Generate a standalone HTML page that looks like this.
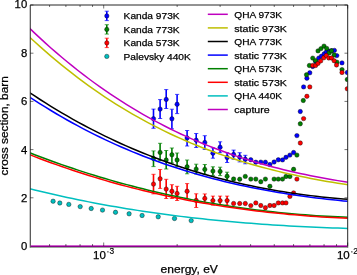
<!DOCTYPE html>
<html><head><meta charset="utf-8"><style>
html,body{margin:0;padding:0;background:#fff;width:357px;height:275px;overflow:hidden;position:relative}
</style></head><body>
<svg width="357" height="275" viewBox="0 0 357 275" style="position:absolute;left:0;top:0;will-change:transform">
<defs><clipPath id="c"><rect x="30.25" y="5.0" width="317.45" height="241.0"/></clipPath></defs>
<g clip-path="url(#c)">
<path d="M153.50,109.10 V128.30" stroke="#0000ff" stroke-width="1.6" fill="none"/><path d="M151.40,109.10 H155.60 M151.40,128.30 H155.60" stroke="#0000ff" stroke-width="0.7" fill="none"/>
<path d="M160.10,99.60 V118.50" stroke="#0000ff" stroke-width="1.6" fill="none"/><path d="M158.00,99.60 H162.20 M158.00,118.50 H162.20" stroke="#0000ff" stroke-width="0.7" fill="none"/>
<path d="M166.20,89.60 V108.50" stroke="#0000ff" stroke-width="1.6" fill="none"/><path d="M164.10,89.60 H168.30 M164.10,108.50 H168.30" stroke="#0000ff" stroke-width="0.7" fill="none"/>
<path d="M171.90,109.20 V128.80" stroke="#0000ff" stroke-width="1.6" fill="none"/><path d="M169.80,109.20 H174.00 M169.80,128.80 H174.00" stroke="#0000ff" stroke-width="0.7" fill="none"/>
<path d="M177.10,94.40 V113.60" stroke="#0000ff" stroke-width="1.6" fill="none"/><path d="M175.00,94.40 H179.20 M175.00,113.60 H179.20" stroke="#0000ff" stroke-width="0.7" fill="none"/>
<path d="M187.10,130.50 V146.00" stroke="#0000ff" stroke-width="1.6" fill="none"/><path d="M185.00,130.50 H189.20 M185.00,146.00 H189.20" stroke="#0000ff" stroke-width="0.7" fill="none"/>
<path d="M196.20,133.50 V147.50" stroke="#0000ff" stroke-width="1.6" fill="none"/><path d="M194.10,133.50 H198.30 M194.10,147.50 H198.30" stroke="#0000ff" stroke-width="0.7" fill="none"/>
<path d="M204.80,135.70 V149.50" stroke="#0000ff" stroke-width="1.6" fill="none"/><path d="M202.70,135.70 H206.90 M202.70,149.50 H206.90" stroke="#0000ff" stroke-width="0.7" fill="none"/>
<path d="M212.90,147.90 V158.20" stroke="#0000ff" stroke-width="1.6" fill="none"/><path d="M210.80,147.90 H215.00 M210.80,158.20 H215.00" stroke="#0000ff" stroke-width="0.7" fill="none"/>
<path d="M220.10,141.80 V152.70" stroke="#0000ff" stroke-width="1.6" fill="none"/><path d="M218.00,141.80 H222.20 M218.00,152.70 H222.20" stroke="#0000ff" stroke-width="0.7" fill="none"/>
<path d="M227.10,152.70 V162.50" stroke="#0000ff" stroke-width="1.6" fill="none"/><path d="M225.00,152.70 H229.20 M225.00,162.50 H229.20" stroke="#0000ff" stroke-width="0.7" fill="none"/>
<path d="M233.60,150.10 V159.30" stroke="#0000ff" stroke-width="1.6" fill="none"/><path d="M231.50,150.10 H235.70 M231.50,159.30 H235.70" stroke="#0000ff" stroke-width="0.7" fill="none"/>
<path d="M239.70,152.70 V161.90" stroke="#0000ff" stroke-width="1.6" fill="none"/><path d="M237.60,152.70 H241.80 M237.60,161.90 H241.80" stroke="#0000ff" stroke-width="0.7" fill="none"/>
<path d="M245.30,155.30 V163.80" stroke="#0000ff" stroke-width="1.6" fill="none"/><path d="M243.20,155.30 H247.40 M243.20,163.80 H247.40" stroke="#0000ff" stroke-width="0.7" fill="none"/>
<circle cx="153.50" cy="118.70" r="2.2" fill="#0000ff" stroke="#000" stroke-width="0.4"/>
<circle cx="160.10" cy="109.10" r="2.2" fill="#0000ff" stroke="#000" stroke-width="0.4"/>
<circle cx="166.20" cy="99.40" r="2.2" fill="#0000ff" stroke="#000" stroke-width="0.4"/>
<circle cx="171.90" cy="118.80" r="2.2" fill="#0000ff" stroke="#000" stroke-width="0.4"/>
<circle cx="177.10" cy="104.30" r="2.2" fill="#0000ff" stroke="#000" stroke-width="0.4"/>
<circle cx="187.10" cy="138.00" r="2.2" fill="#0000ff" stroke="#000" stroke-width="0.4"/>
<circle cx="196.20" cy="140.20" r="2.2" fill="#0000ff" stroke="#000" stroke-width="0.4"/>
<circle cx="204.80" cy="142.50" r="2.2" fill="#0000ff" stroke="#000" stroke-width="0.4"/>
<circle cx="212.90" cy="153.20" r="2.2" fill="#0000ff" stroke="#000" stroke-width="0.4"/>
<circle cx="220.10" cy="147.30" r="2.2" fill="#0000ff" stroke="#000" stroke-width="0.4"/>
<circle cx="227.10" cy="157.50" r="2.2" fill="#0000ff" stroke="#000" stroke-width="0.4"/>
<circle cx="233.60" cy="154.50" r="2.2" fill="#0000ff" stroke="#000" stroke-width="0.4"/>
<circle cx="239.70" cy="157.10" r="2.2" fill="#0000ff" stroke="#000" stroke-width="0.4"/>
<circle cx="245.30" cy="159.30" r="2.2" fill="#0000ff" stroke="#000" stroke-width="0.4"/>
<circle cx="250.80" cy="159.70" r="2.2" fill="#0000ff" stroke="#000" stroke-width="0.4"/>
<circle cx="255.80" cy="162.20" r="2.2" fill="#0000ff" stroke="#000" stroke-width="0.4"/>
<circle cx="260.80" cy="162.10" r="2.2" fill="#0000ff" stroke="#000" stroke-width="0.4"/>
<circle cx="265.40" cy="162.20" r="2.2" fill="#0000ff" stroke="#000" stroke-width="0.4"/>
<circle cx="269.90" cy="164.50" r="2.2" fill="#0000ff" stroke="#000" stroke-width="0.4"/>
<circle cx="274.10" cy="162.00" r="2.2" fill="#0000ff" stroke="#000" stroke-width="0.4"/>
<circle cx="278.30" cy="159.80" r="2.2" fill="#0000ff" stroke="#000" stroke-width="0.4"/>
<circle cx="282.50" cy="159.90" r="2.2" fill="#0000ff" stroke="#000" stroke-width="0.4"/>
<circle cx="286.00" cy="157.30" r="2.2" fill="#0000ff" stroke="#000" stroke-width="0.4"/>
<circle cx="289.90" cy="155.10" r="2.2" fill="#0000ff" stroke="#000" stroke-width="0.4"/>
<circle cx="293.60" cy="152.50" r="2.2" fill="#0000ff" stroke="#000" stroke-width="0.4"/>
<circle cx="296.90" cy="135.60" r="2.2" fill="#0000ff" stroke="#000" stroke-width="0.4"/>
<circle cx="300.30" cy="111.50" r="2.2" fill="#0000ff" stroke="#000" stroke-width="0.4"/>
<circle cx="303.60" cy="86.90" r="2.2" fill="#0000ff" stroke="#000" stroke-width="0.4"/>
<circle cx="306.90" cy="78.20" r="2.2" fill="#0000ff" stroke="#000" stroke-width="0.4"/>
<circle cx="309.80" cy="72.80" r="2.2" fill="#0000ff" stroke="#000" stroke-width="0.4"/>
<circle cx="312.70" cy="66.50" r="2.2" fill="#0000ff" stroke="#000" stroke-width="0.4"/>
<circle cx="315.60" cy="61.50" r="2.2" fill="#0000ff" stroke="#000" stroke-width="0.4"/>
<circle cx="318.70" cy="58.10" r="2.2" fill="#0000ff" stroke="#000" stroke-width="0.4"/>
<circle cx="321.40" cy="56.20" r="2.2" fill="#0000ff" stroke="#000" stroke-width="0.4"/>
<circle cx="324.20" cy="53.80" r="2.2" fill="#0000ff" stroke="#000" stroke-width="0.4"/>
<circle cx="326.50" cy="51.70" r="2.2" fill="#0000ff" stroke="#000" stroke-width="0.4"/>
<circle cx="329.10" cy="51.20" r="2.2" fill="#0000ff" stroke="#000" stroke-width="0.4"/>
<circle cx="331.60" cy="50.80" r="2.2" fill="#0000ff" stroke="#000" stroke-width="0.4"/>
<circle cx="334.40" cy="50.40" r="2.2" fill="#0000ff" stroke="#000" stroke-width="0.4"/>
<circle cx="336.80" cy="55.60" r="2.2" fill="#0000ff" stroke="#000" stroke-width="0.4"/>
<circle cx="342.00" cy="62.90" r="2.2" fill="#0000ff" stroke="#000" stroke-width="0.4"/>
<circle cx="347.30" cy="72.50" r="2.2" fill="#0000ff" stroke="#000" stroke-width="0.4"/>
<path d="M153.50,150.90 V166.60" stroke="#008000" stroke-width="1.6" fill="none"/><path d="M151.40,150.90 H155.60 M151.40,166.60 H155.60" stroke="#008000" stroke-width="0.7" fill="none"/>
<path d="M160.10,143.30 V160.70" stroke="#008000" stroke-width="1.6" fill="none"/><path d="M158.00,143.30 H162.20 M158.00,160.70 H162.20" stroke="#008000" stroke-width="0.7" fill="none"/>
<path d="M166.20,150.50 V169.00" stroke="#008000" stroke-width="1.6" fill="none"/><path d="M164.10,150.50 H168.30 M164.10,169.00 H168.30" stroke="#008000" stroke-width="0.7" fill="none"/>
<path d="M171.90,148.00 V163.00" stroke="#008000" stroke-width="1.6" fill="none"/><path d="M169.80,148.00 H174.00 M169.80,163.00 H174.00" stroke="#008000" stroke-width="0.7" fill="none"/>
<path d="M177.10,153.00 V166.60" stroke="#008000" stroke-width="1.6" fill="none"/><path d="M175.00,153.00 H179.20 M175.00,166.60 H179.20" stroke="#008000" stroke-width="0.7" fill="none"/>
<path d="M187.10,160.00 V173.80" stroke="#008000" stroke-width="1.6" fill="none"/><path d="M185.00,160.00 H189.20 M185.00,173.80 H189.20" stroke="#008000" stroke-width="0.7" fill="none"/>
<path d="M196.20,164.20 V174.00" stroke="#008000" stroke-width="1.6" fill="none"/><path d="M194.10,164.20 H198.30 M194.10,174.00 H198.30" stroke="#008000" stroke-width="0.7" fill="none"/>
<path d="M204.80,164.50 V174.30" stroke="#008000" stroke-width="1.6" fill="none"/><path d="M202.70,164.50 H206.90 M202.70,174.30 H206.90" stroke="#008000" stroke-width="0.7" fill="none"/>
<path d="M212.90,166.80 V175.40" stroke="#008000" stroke-width="1.6" fill="none"/><path d="M210.80,166.80 H215.00 M210.80,175.40 H215.00" stroke="#008000" stroke-width="0.7" fill="none"/>
<path d="M220.10,167.20 V175.60" stroke="#008000" stroke-width="1.6" fill="none"/><path d="M218.00,167.20 H222.20 M218.00,175.60 H222.20" stroke="#008000" stroke-width="0.7" fill="none"/>
<path d="M227.10,172.20 V180.40" stroke="#008000" stroke-width="1.6" fill="none"/><path d="M225.00,172.20 H229.20 M225.00,180.40 H229.20" stroke="#008000" stroke-width="0.7" fill="none"/>
<circle cx="153.50" cy="158.50" r="2.2" fill="#008000" stroke="#000" stroke-width="0.4"/>
<circle cx="160.10" cy="152.40" r="2.2" fill="#008000" stroke="#000" stroke-width="0.4"/>
<circle cx="166.20" cy="160.00" r="2.2" fill="#008000" stroke="#000" stroke-width="0.4"/>
<circle cx="171.90" cy="154.80" r="2.2" fill="#008000" stroke="#000" stroke-width="0.4"/>
<circle cx="177.10" cy="160.00" r="2.2" fill="#008000" stroke="#000" stroke-width="0.4"/>
<circle cx="187.10" cy="166.80" r="2.2" fill="#008000" stroke="#000" stroke-width="0.4"/>
<circle cx="196.20" cy="169.10" r="2.2" fill="#008000" stroke="#000" stroke-width="0.4"/>
<circle cx="204.80" cy="169.40" r="2.2" fill="#008000" stroke="#000" stroke-width="0.4"/>
<circle cx="212.90" cy="171.10" r="2.2" fill="#008000" stroke="#000" stroke-width="0.4"/>
<circle cx="220.10" cy="171.40" r="2.2" fill="#008000" stroke="#000" stroke-width="0.4"/>
<circle cx="227.10" cy="176.30" r="2.2" fill="#008000" stroke="#000" stroke-width="0.4"/>
<circle cx="233.60" cy="179.00" r="2.2" fill="#008000" stroke="#000" stroke-width="0.4"/>
<circle cx="239.70" cy="179.20" r="2.2" fill="#008000" stroke="#000" stroke-width="0.4"/>
<circle cx="245.30" cy="176.40" r="2.2" fill="#008000" stroke="#000" stroke-width="0.4"/>
<circle cx="250.80" cy="179.10" r="2.2" fill="#008000" stroke="#000" stroke-width="0.4"/>
<circle cx="255.80" cy="179.10" r="2.2" fill="#008000" stroke="#000" stroke-width="0.4"/>
<circle cx="260.80" cy="181.70" r="2.2" fill="#008000" stroke="#000" stroke-width="0.4"/>
<circle cx="265.40" cy="179.10" r="2.2" fill="#008000" stroke="#000" stroke-width="0.4"/>
<circle cx="269.90" cy="186.30" r="2.2" fill="#008000" stroke="#000" stroke-width="0.4"/>
<circle cx="274.10" cy="179.10" r="2.2" fill="#008000" stroke="#000" stroke-width="0.4"/>
<circle cx="278.30" cy="179.10" r="2.2" fill="#008000" stroke="#000" stroke-width="0.4"/>
<circle cx="282.50" cy="179.10" r="2.2" fill="#008000" stroke="#000" stroke-width="0.4"/>
<circle cx="286.00" cy="176.50" r="2.2" fill="#008000" stroke="#000" stroke-width="0.4"/>
<circle cx="289.90" cy="176.50" r="2.2" fill="#008000" stroke="#000" stroke-width="0.4"/>
<circle cx="293.60" cy="169.30" r="2.2" fill="#008000" stroke="#000" stroke-width="0.4"/>
<circle cx="296.90" cy="155.10" r="2.2" fill="#008000" stroke="#000" stroke-width="0.4"/>
<circle cx="300.30" cy="123.80" r="2.2" fill="#008000" stroke="#000" stroke-width="0.4"/>
<circle cx="303.30" cy="100.50" r="2.2" fill="#008000" stroke="#000" stroke-width="0.4"/>
<circle cx="306.50" cy="74.80" r="2.2" fill="#008000" stroke="#000" stroke-width="0.4"/>
<circle cx="309.40" cy="65.50" r="2.2" fill="#008000" stroke="#000" stroke-width="0.4"/>
<circle cx="312.70" cy="58.10" r="2.2" fill="#008000" stroke="#000" stroke-width="0.4"/>
<circle cx="315.50" cy="60.60" r="2.2" fill="#008000" stroke="#000" stroke-width="0.4"/>
<circle cx="318.00" cy="50.90" r="2.2" fill="#008000" stroke="#000" stroke-width="0.4"/>
<circle cx="321.00" cy="48.60" r="2.2" fill="#008000" stroke="#000" stroke-width="0.4"/>
<circle cx="324.00" cy="46.10" r="2.2" fill="#008000" stroke="#000" stroke-width="0.4"/>
<circle cx="326.70" cy="48.40" r="2.2" fill="#008000" stroke="#000" stroke-width="0.4"/>
<circle cx="329.10" cy="52.90" r="2.2" fill="#008000" stroke="#000" stroke-width="0.4"/>
<circle cx="331.50" cy="50.80" r="2.2" fill="#008000" stroke="#000" stroke-width="0.4"/>
<circle cx="334.10" cy="55.00" r="2.2" fill="#008000" stroke="#000" stroke-width="0.4"/>
<circle cx="336.90" cy="62.20" r="2.2" fill="#008000" stroke="#000" stroke-width="0.4"/>
<circle cx="342.00" cy="69.60" r="2.2" fill="#008000" stroke="#000" stroke-width="0.4"/>
<circle cx="347.30" cy="79.50" r="2.2" fill="#008000" stroke="#000" stroke-width="0.4"/>
<path d="M153.50,174.30 V193.90" stroke="#ff0000" stroke-width="1.6" fill="none"/><path d="M151.40,174.30 H155.60 M151.40,193.90 H155.60" stroke="#ff0000" stroke-width="0.7" fill="none"/>
<path d="M160.10,169.50 V188.40" stroke="#ff0000" stroke-width="1.6" fill="none"/><path d="M158.00,169.50 H162.20 M158.00,188.40 H162.20" stroke="#ff0000" stroke-width="0.7" fill="none"/>
<path d="M166.20,179.30 V198.50" stroke="#ff0000" stroke-width="1.6" fill="none"/><path d="M164.10,179.30 H168.30 M164.10,198.50 H168.30" stroke="#ff0000" stroke-width="0.7" fill="none"/>
<path d="M171.90,184.70 V198.50" stroke="#ff0000" stroke-width="1.6" fill="none"/><path d="M169.80,184.70 H174.00 M169.80,198.50 H174.00" stroke="#ff0000" stroke-width="0.7" fill="none"/>
<path d="M177.10,186.30 V200.50" stroke="#ff0000" stroke-width="1.6" fill="none"/><path d="M175.00,186.30 H179.20 M175.00,200.50 H179.20" stroke="#ff0000" stroke-width="0.7" fill="none"/>
<path d="M187.10,183.60 V199.00" stroke="#ff0000" stroke-width="1.6" fill="none"/><path d="M185.00,183.60 H189.20 M185.00,199.00 H189.20" stroke="#ff0000" stroke-width="0.7" fill="none"/>
<path d="M196.20,193.80 V207.50" stroke="#ff0000" stroke-width="1.6" fill="none"/><path d="M194.10,193.80 H198.30 M194.10,207.50 H198.30" stroke="#ff0000" stroke-width="0.7" fill="none"/>
<path d="M204.80,193.90 V203.00" stroke="#ff0000" stroke-width="1.6" fill="none"/><path d="M202.70,193.90 H206.90 M202.70,203.00 H206.90" stroke="#ff0000" stroke-width="0.7" fill="none"/>
<path d="M212.90,196.10 V205.10" stroke="#ff0000" stroke-width="1.6" fill="none"/><path d="M210.80,196.10 H215.00 M210.80,205.10 H215.00" stroke="#ff0000" stroke-width="0.7" fill="none"/>
<path d="M220.10,196.10 V205.10" stroke="#ff0000" stroke-width="1.6" fill="none"/><path d="M218.00,196.10 H222.20 M218.00,205.10 H222.20" stroke="#ff0000" stroke-width="0.7" fill="none"/>
<path d="M227.10,196.10 V205.10" stroke="#ff0000" stroke-width="1.6" fill="none"/><path d="M225.00,196.10 H229.20 M225.00,205.10 H229.20" stroke="#ff0000" stroke-width="0.7" fill="none"/>
<circle cx="153.50" cy="184.10" r="2.2" fill="#ff0000" stroke="#000" stroke-width="0.4"/>
<circle cx="160.10" cy="178.80" r="2.2" fill="#ff0000" stroke="#000" stroke-width="0.4"/>
<circle cx="166.20" cy="189.10" r="2.2" fill="#ff0000" stroke="#000" stroke-width="0.4"/>
<circle cx="171.90" cy="191.30" r="2.2" fill="#ff0000" stroke="#000" stroke-width="0.4"/>
<circle cx="177.10" cy="193.50" r="2.2" fill="#ff0000" stroke="#000" stroke-width="0.4"/>
<circle cx="187.10" cy="191.30" r="2.2" fill="#ff0000" stroke="#000" stroke-width="0.4"/>
<circle cx="196.20" cy="200.40" r="2.2" fill="#ff0000" stroke="#000" stroke-width="0.4"/>
<circle cx="204.80" cy="198.40" r="2.2" fill="#ff0000" stroke="#000" stroke-width="0.4"/>
<circle cx="212.90" cy="200.60" r="2.2" fill="#ff0000" stroke="#000" stroke-width="0.4"/>
<circle cx="220.10" cy="200.60" r="2.2" fill="#ff0000" stroke="#000" stroke-width="0.4"/>
<circle cx="227.10" cy="200.60" r="2.2" fill="#ff0000" stroke="#000" stroke-width="0.4"/>
<circle cx="233.60" cy="203.50" r="2.2" fill="#ff0000" stroke="#000" stroke-width="0.4"/>
<circle cx="239.70" cy="203.50" r="2.2" fill="#ff0000" stroke="#000" stroke-width="0.4"/>
<circle cx="245.30" cy="203.50" r="2.2" fill="#ff0000" stroke="#000" stroke-width="0.4"/>
<circle cx="250.80" cy="205.60" r="2.2" fill="#ff0000" stroke="#000" stroke-width="0.4"/>
<circle cx="255.80" cy="202.90" r="2.2" fill="#ff0000" stroke="#000" stroke-width="0.4"/>
<circle cx="260.80" cy="205.50" r="2.2" fill="#ff0000" stroke="#000" stroke-width="0.4"/>
<circle cx="265.40" cy="207.70" r="2.2" fill="#ff0000" stroke="#000" stroke-width="0.4"/>
<circle cx="269.90" cy="205.50" r="2.2" fill="#ff0000" stroke="#000" stroke-width="0.4"/>
<circle cx="274.10" cy="205.50" r="2.2" fill="#ff0000" stroke="#000" stroke-width="0.4"/>
<circle cx="278.30" cy="202.90" r="2.2" fill="#ff0000" stroke="#000" stroke-width="0.4"/>
<circle cx="282.50" cy="202.90" r="2.2" fill="#ff0000" stroke="#000" stroke-width="0.4"/>
<circle cx="286.00" cy="202.90" r="2.2" fill="#ff0000" stroke="#000" stroke-width="0.4"/>
<circle cx="289.90" cy="196.40" r="2.2" fill="#ff0000" stroke="#000" stroke-width="0.4"/>
<circle cx="293.60" cy="192.90" r="2.2" fill="#ff0000" stroke="#000" stroke-width="0.4"/>
<circle cx="296.90" cy="179.10" r="2.2" fill="#ff0000" stroke="#000" stroke-width="0.4"/>
<circle cx="300.30" cy="143.00" r="2.2" fill="#ff0000" stroke="#000" stroke-width="0.4"/>
<circle cx="303.60" cy="118.60" r="2.2" fill="#ff0000" stroke="#000" stroke-width="0.4"/>
<circle cx="306.90" cy="96.30" r="2.2" fill="#ff0000" stroke="#000" stroke-width="0.4"/>
<circle cx="309.80" cy="86.90" r="2.2" fill="#ff0000" stroke="#000" stroke-width="0.4"/>
<circle cx="312.70" cy="65.50" r="2.2" fill="#ff0000" stroke="#000" stroke-width="0.4"/>
<circle cx="315.60" cy="65.50" r="2.2" fill="#ff0000" stroke="#000" stroke-width="0.4"/>
<circle cx="318.00" cy="63.40" r="2.2" fill="#ff0000" stroke="#000" stroke-width="0.4"/>
<circle cx="320.70" cy="60.90" r="2.2" fill="#ff0000" stroke="#000" stroke-width="0.4"/>
<circle cx="323.80" cy="57.80" r="2.2" fill="#ff0000" stroke="#000" stroke-width="0.4"/>
<circle cx="326.30" cy="55.50" r="2.2" fill="#ff0000" stroke="#000" stroke-width="0.4"/>
<circle cx="328.80" cy="58.00" r="2.2" fill="#ff0000" stroke="#000" stroke-width="0.4"/>
<circle cx="331.50" cy="58.00" r="2.2" fill="#ff0000" stroke="#000" stroke-width="0.4"/>
<circle cx="334.10" cy="60.70" r="2.2" fill="#ff0000" stroke="#000" stroke-width="0.4"/>
<circle cx="336.50" cy="65.00" r="2.2" fill="#ff0000" stroke="#000" stroke-width="0.4"/>
<circle cx="342.00" cy="72.50" r="2.2" fill="#ff0000" stroke="#000" stroke-width="0.4"/>
<circle cx="347.30" cy="88.80" r="2.2" fill="#ff0000" stroke="#000" stroke-width="0.4"/>
<circle cx="53.10" cy="201.20" r="2.2" fill="#00bfbf" stroke="#000" stroke-width="0.4"/>
<circle cx="59.80" cy="203.00" r="2.2" fill="#00bfbf" stroke="#000" stroke-width="0.4"/>
<circle cx="68.80" cy="204.40" r="2.2" fill="#00bfbf" stroke="#000" stroke-width="0.4"/>
<circle cx="80.20" cy="206.60" r="2.2" fill="#00bfbf" stroke="#000" stroke-width="0.4"/>
<circle cx="91.20" cy="208.50" r="2.2" fill="#00bfbf" stroke="#000" stroke-width="0.4"/>
<circle cx="102.50" cy="210.10" r="2.2" fill="#00bfbf" stroke="#000" stroke-width="0.4"/>
<circle cx="115.50" cy="212.30" r="2.2" fill="#00bfbf" stroke="#000" stroke-width="0.4"/>
<circle cx="129.10" cy="213.80" r="2.2" fill="#00bfbf" stroke="#000" stroke-width="0.4"/>
<circle cx="142.10" cy="215.50" r="2.2" fill="#00bfbf" stroke="#000" stroke-width="0.4"/>
<circle cx="158.20" cy="216.80" r="2.2" fill="#00bfbf" stroke="#000" stroke-width="0.4"/>
<circle cx="174.50" cy="218.50" r="2.2" fill="#00bfbf" stroke="#000" stroke-width="0.4"/>
<circle cx="191.20" cy="220.60" r="2.2" fill="#00bfbf" stroke="#000" stroke-width="0.4"/>
<path d="M29.25,27.94 L34.66,33.12 L40.08,38.17 L45.49,43.12 L50.91,47.95 L56.32,52.67 L61.74,57.29 L67.15,61.79 L72.57,66.19 L77.98,70.48 L83.39,74.67 L88.81,78.76 L94.22,82.74 L99.64,86.63 L105.05,90.42 L110.47,94.11 L115.88,97.70 L121.29,101.21 L126.71,104.62 L132.12,107.94 L137.54,111.16 L142.95,114.31 L148.37,117.36 L153.78,120.33 L159.20,123.21 L164.61,126.02 L170.02,128.74 L175.44,131.38 L180.85,133.95 L186.27,136.43 L191.68,138.84 L197.10,141.18 L202.51,143.45 L207.93,145.64 L213.34,147.76 L218.75,149.82 L224.17,151.81 L229.58,153.73 L235.00,155.59 L240.41,157.39 L245.83,159.12 L251.24,160.80 L256.66,162.42 L262.07,163.98 L267.48,165.48 L272.90,166.93 L278.31,168.33 L283.73,169.68 L289.14,170.97 L294.56,172.22 L299.97,173.42 L305.38,174.58 L310.80,175.69 L316.21,176.76 L321.63,177.79 L327.04,178.77 L332.46,179.72 L337.87,180.63 L343.29,181.51 L348.70,182.35" fill="none" stroke="#bf00bf" stroke-width="1.5"/>
<path d="M29.25,36.71 L34.66,41.72 L40.08,46.62 L45.49,51.41 L50.91,56.08 L56.32,60.65 L61.74,65.10 L67.15,69.45 L72.57,73.70 L77.98,77.83 L83.39,81.87 L88.81,85.81 L94.22,89.64 L99.64,93.38 L105.05,97.02 L110.47,100.56 L115.88,104.02 L121.29,107.37 L126.71,110.64 L132.12,113.82 L137.54,116.91 L142.95,119.92 L148.37,122.84 L153.78,125.68 L159.20,128.43 L164.61,131.11 L170.02,133.70 L175.44,136.22 L180.85,138.66 L186.27,141.03 L191.68,143.33 L197.10,145.55 L202.51,147.70 L207.93,149.79 L213.34,151.81 L218.75,153.76 L224.17,155.65 L229.58,157.48 L235.00,159.25 L240.41,160.95 L245.83,162.60 L251.24,164.19 L256.66,165.73 L262.07,167.21 L267.48,168.65 L272.90,170.03 L278.31,171.36 L283.73,172.65 L289.14,173.88 L294.56,175.08 L299.97,176.23 L305.38,177.34 L310.80,178.41 L316.21,179.44 L321.63,180.44 L327.04,181.39 L332.46,182.32 L337.87,183.21 L343.29,184.07 L348.70,184.90" fill="none" stroke="#bfbf00" stroke-width="1.5"/>
<path d="M29.25,92.40 L34.66,95.99 L40.08,99.50 L45.49,102.94 L50.91,106.30 L56.32,109.59 L61.74,112.81 L67.15,115.96 L72.57,119.04 L77.98,122.05 L83.39,124.99 L88.81,127.86 L94.22,130.66 L99.64,133.40 L105.05,136.07 L110.47,138.68 L115.88,141.22 L121.29,143.70 L126.71,146.11 L132.12,148.47 L137.54,150.76 L142.95,152.99 L148.37,155.15 L153.78,157.26 L159.20,159.31 L164.61,161.31 L170.02,163.24 L175.44,165.12 L180.85,166.94 L186.27,168.70 L191.68,170.42 L197.10,172.07 L202.51,173.68 L207.93,175.23 L213.34,176.73 L218.75,178.17 L224.17,179.57 L229.58,180.92 L235.00,182.22 L240.41,183.47 L245.83,184.67 L251.24,185.82 L256.66,186.93 L262.07,187.99 L267.48,189.01 L272.90,189.99 L278.31,190.92 L283.73,191.80 L289.14,192.65 L294.56,193.45 L299.97,194.22 L305.38,194.94 L310.80,195.62 L316.21,196.27 L321.63,196.88 L327.04,197.45 L332.46,197.98 L337.87,198.48 L343.29,198.94 L348.70,199.37" fill="none" stroke="#000000" stroke-width="1.5"/>
<path d="M29.25,96.80 L34.66,100.35 L40.08,103.81 L45.49,107.20 L50.91,110.51 L56.32,113.75 L61.74,116.91 L67.15,119.99 L72.57,123.00 L77.98,125.94 L83.39,128.81 L88.81,131.61 L94.22,134.34 L99.64,137.00 L105.05,139.59 L110.47,142.12 L115.88,144.58 L121.29,146.98 L126.71,149.31 L132.12,151.58 L137.54,153.78 L142.95,155.93 L148.37,158.01 L153.78,160.04 L159.20,162.01 L164.61,163.92 L170.02,165.77 L175.44,167.57 L180.85,169.32 L186.27,171.01 L191.68,172.65 L197.10,174.23 L202.51,175.77 L207.93,177.25 L213.34,178.69 L218.75,180.08 L224.17,181.42 L229.58,182.72 L235.00,183.97 L240.41,185.17 L245.83,186.33 L251.24,187.45 L256.66,188.53 L262.07,189.57 L267.48,190.57 L272.90,191.53 L278.31,192.45 L283.73,193.34 L289.14,194.19 L294.56,195.00 L299.97,195.78 L305.38,196.53 L310.80,197.24 L316.21,197.93 L321.63,198.58 L327.04,199.20 L332.46,199.80 L337.87,200.37 L343.29,200.91 L348.70,201.43" fill="none" stroke="#0000ff" stroke-width="1.5"/>
<path d="M29.25,152.58 L34.66,154.68 L40.08,156.74 L45.49,158.76 L50.91,160.75 L56.32,162.70 L61.74,164.60 L67.15,166.48 L72.57,168.31 L77.98,170.11 L83.39,171.86 L88.81,173.59 L94.22,175.27 L99.64,176.92 L105.05,178.54 L110.47,180.11 L115.88,181.66 L121.29,183.16 L126.71,184.63 L132.12,186.07 L137.54,187.47 L142.95,188.84 L148.37,190.17 L153.78,191.47 L159.20,192.73 L164.61,193.96 L170.02,195.16 L175.44,196.33 L180.85,197.46 L186.27,198.55 L191.68,199.62 L197.10,200.65 L202.51,201.65 L207.93,202.62 L213.34,203.56 L218.75,204.47 L224.17,205.34 L229.58,206.18 L235.00,207.00 L240.41,207.78 L245.83,208.53 L251.24,209.25 L256.66,209.94 L262.07,210.61 L267.48,211.24 L272.90,211.84 L278.31,212.42 L283.73,212.96 L289.14,213.48 L294.56,213.97 L299.97,214.43 L305.38,214.86 L310.80,215.26 L316.21,215.64 L321.63,215.99 L327.04,216.31 L332.46,216.61 L337.87,216.87 L343.29,217.12 L348.70,217.33" fill="none" stroke="#008000" stroke-width="1.5"/>
<path d="M29.25,154.50 L34.66,156.61 L40.08,158.68 L45.49,160.71 L50.91,162.70 L56.32,164.64 L61.74,166.55 L67.15,168.41 L72.57,170.24 L77.98,172.02 L83.39,173.76 L88.81,175.47 L94.22,177.14 L99.64,178.77 L105.05,180.36 L110.47,181.91 L115.88,183.43 L121.29,184.91 L126.71,186.35 L132.12,187.76 L137.54,189.13 L142.95,190.46 L148.37,191.76 L153.78,193.03 L159.20,194.26 L164.61,195.46 L170.02,196.62 L175.44,197.75 L180.85,198.84 L186.27,199.91 L191.68,200.94 L197.10,201.94 L202.51,202.91 L207.93,203.84 L213.34,204.75 L218.75,205.63 L224.17,206.47 L229.58,207.29 L235.00,208.07 L240.41,208.83 L245.83,209.56 L251.24,210.25 L256.66,210.93 L262.07,211.57 L267.48,212.18 L272.90,212.77 L278.31,213.34 L283.73,213.87 L289.14,214.38 L294.56,214.86 L299.97,215.32 L305.38,215.76 L310.80,216.17 L316.21,216.55 L321.63,216.91 L327.04,217.25 L332.46,217.56 L337.87,217.85 L343.29,218.12 L348.70,218.37" fill="none" stroke="#ff0000" stroke-width="1.5"/>
<path d="M29.25,188.64 L34.66,189.98 L40.08,191.30 L45.49,192.58 L50.91,193.83 L56.32,195.06 L61.74,196.26 L67.15,197.44 L72.57,198.58 L77.98,199.70 L83.39,200.80 L88.81,201.87 L94.22,202.91 L99.64,203.93 L105.05,204.92 L110.47,205.89 L115.88,206.84 L121.29,207.76 L126.71,208.65 L132.12,209.53 L137.54,210.38 L142.95,211.20 L148.37,212.01 L153.78,212.79 L159.20,213.55 L164.61,214.29 L170.02,215.00 L175.44,215.70 L180.85,216.37 L186.27,217.03 L191.68,217.66 L197.10,218.27 L202.51,218.87 L207.93,219.44 L213.34,220.00 L218.75,220.53 L224.17,221.05 L229.58,221.55 L235.00,222.03 L240.41,222.49 L245.83,222.94 L251.24,223.37 L256.66,223.78 L262.07,224.17 L267.48,224.55 L272.90,224.92 L278.31,225.26 L283.73,225.59 L289.14,225.91 L294.56,226.21 L299.97,226.50 L305.38,226.77 L310.80,227.03 L316.21,227.27 L321.63,227.50 L327.04,227.72 L332.46,227.93 L337.87,228.12 L343.29,228.30 L348.70,228.46" fill="none" stroke="#00bfbf" stroke-width="1.5"/>
</g>
<path d="M30.25,247.4 V5.0 H347.7 V247.4" fill="none" stroke="#262626" stroke-width="1.0"/>
<rect x="30.65" y="245.2" width="316.65" height="0.6" fill="#c820c8"/>
<rect x="30.65" y="245.8" width="316.65" height="1.2" fill="#8a008a"/>
<rect x="29.75" y="247.0" width="318.45" height="0.8" fill="#5a6a5a" fill-opacity="0.75"/>
<path d="M30.25,197.80 h3.2 M347.7,197.80 h-3.2 M30.25,149.60 h3.2 M347.7,149.60 h-3.2 M30.25,101.40 h3.2 M347.7,101.40 h-3.2 M30.25,53.20 h3.2 M347.7,53.20 h-3.2 M30.25,5.00 h3.2 M347.7,5.00 h-3.2 M103.70,246.0 v-3.5 M103.70,5.0 v3.5 M347.70,246.0 v-3.5 M347.70,5.0 v3.5 M49.57,246.0 v-2 M49.57,5.0 v2 M65.90,246.0 v-2 M65.90,5.0 v2 M80.05,246.0 v-2 M80.05,5.0 v2 M92.54,246.0 v-2 M92.54,5.0 v2 M177.15,246.0 v-2 M177.15,5.0 v2 M220.12,246.0 v-2 M220.12,5.0 v2 M250.60,246.0 v-2 M250.60,5.0 v2 M274.25,246.0 v-2 M274.25,5.0 v2 M293.57,246.0 v-2 M293.57,5.0 v2 M309.90,246.0 v-2 M309.90,5.0 v2 M324.05,246.0 v-2 M324.05,5.0 v2 M336.54,246.0 v-2 M336.54,5.0 v2" stroke="#000" stroke-width="0.55" fill="none"/>
<g font-family="Liberation Sans, sans-serif" fill="#000" stroke="#000" stroke-width="0.25">
<text x="20.9" y="250.00" font-size="11" textLength="6.3" lengthAdjust="spacingAndGlyphs">0</text>
<text x="20.9" y="201.80" font-size="11" textLength="6.3" lengthAdjust="spacingAndGlyphs">2</text>
<text x="20.9" y="153.60" font-size="11" textLength="6.3" lengthAdjust="spacingAndGlyphs">4</text>
<text x="20.9" y="105.40" font-size="11" textLength="6.3" lengthAdjust="spacingAndGlyphs">6</text>
<text x="20.9" y="57.20" font-size="11" textLength="6.3" lengthAdjust="spacingAndGlyphs">8</text>
<text x="14.6" y="8.00" font-size="11" textLength="12.6" lengthAdjust="spacingAndGlyphs">10</text>
<text x="93.0" y="259.0" font-size="11" textLength="12.8" lengthAdjust="spacingAndGlyphs">10</text>
<rect x="107.1" y="251.5" width="1.6" height="0.8" stroke="none"/>
<text x="109.4" y="254.0" font-size="8.4" stroke-width="0.15">3</text>
<text x="336.9" y="259.0" font-size="11" textLength="12.8" lengthAdjust="spacingAndGlyphs">10</text>
<rect x="351.0" y="251.5" width="1.6" height="0.8" stroke="none"/>
<text x="353.29999999999995" y="254.0" font-size="8.4" stroke-width="0.15">2</text>
<text x="160.6" y="272.5" font-size="10.8" textLength="57.3" lengthAdjust="spacingAndGlyphs">energy, eV</text>
<text transform="translate(7.7,175.6) rotate(-90)" x="0" y="0" font-size="10.8" textLength="99.4" lengthAdjust="spacingAndGlyphs">cross section, barn</text>
</g>
<path d="M106.80,11.20 V20.60" stroke="#0000ff" stroke-width="1.6" fill="none"/><path d="M104.70,11.20 H108.90 M104.70,20.60 H108.90" stroke="#0000ff" stroke-width="0.7" fill="none"/>
<circle cx="106.80" cy="15.90" r="2.2" fill="#0000ff" stroke="#000" stroke-width="0.4"/>
<text x="123.6" y="19.00" font-family="Liberation Sans, sans-serif" stroke="#000" stroke-width="0.25" font-size="9.8" textLength="56.0" lengthAdjust="spacingAndGlyphs" fill="#000">Kanda 973K</text>
<path d="M106.80,24.70 V34.10" stroke="#008000" stroke-width="1.6" fill="none"/><path d="M104.70,24.70 H108.90 M104.70,34.10 H108.90" stroke="#008000" stroke-width="0.7" fill="none"/>
<circle cx="106.80" cy="29.40" r="2.2" fill="#008000" stroke="#000" stroke-width="0.4"/>
<text x="123.6" y="32.50" font-family="Liberation Sans, sans-serif" stroke="#000" stroke-width="0.25" font-size="9.8" textLength="56.0" lengthAdjust="spacingAndGlyphs" fill="#000">Kanda 773K</text>
<path d="M106.80,38.20 V47.60" stroke="#ff0000" stroke-width="1.6" fill="none"/><path d="M104.70,38.20 H108.90 M104.70,47.60 H108.90" stroke="#ff0000" stroke-width="0.7" fill="none"/>
<circle cx="106.80" cy="42.90" r="2.2" fill="#ff0000" stroke="#000" stroke-width="0.4"/>
<text x="123.6" y="46.00" font-family="Liberation Sans, sans-serif" stroke="#000" stroke-width="0.25" font-size="9.8" textLength="56.0" lengthAdjust="spacingAndGlyphs" fill="#000">Kanda 573K</text>
<circle cx="106.80" cy="56.40" r="2.2" fill="#00bfbf" stroke="#000" stroke-width="0.4"/>
<text x="123.6" y="59.50" font-family="Liberation Sans, sans-serif" stroke="#000" stroke-width="0.25" font-size="9.8" textLength="67.2" lengthAdjust="spacingAndGlyphs" fill="#000">Palevsky 440K</text>
<path d="M207.8,14.30 H227.8" stroke="#bf00bf" stroke-width="1.5"/>
<text x="234.3" y="18.00" font-family="Liberation Sans, sans-serif" stroke="#000" stroke-width="0.25" font-size="9.8" textLength="47.8" lengthAdjust="spacingAndGlyphs" fill="#000">QHA 973K</text>
<path d="M207.8,27.90 H227.8" stroke="#bfbf00" stroke-width="1.5"/>
<text x="234.3" y="31.50" font-family="Liberation Sans, sans-serif" stroke="#000" stroke-width="0.25" font-size="9.8" textLength="52.6" lengthAdjust="spacingAndGlyphs" fill="#000">static 973K</text>
<path d="M207.8,41.50 H227.8" stroke="#000000" stroke-width="1.5"/>
<text x="234.3" y="45.00" font-family="Liberation Sans, sans-serif" stroke="#000" stroke-width="0.25" font-size="9.8" textLength="47.8" lengthAdjust="spacingAndGlyphs" fill="#000">QHA 773K</text>
<path d="M207.8,55.10 H227.8" stroke="#0000ff" stroke-width="1.5"/>
<text x="234.3" y="58.50" font-family="Liberation Sans, sans-serif" stroke="#000" stroke-width="0.25" font-size="9.8" textLength="52.6" lengthAdjust="spacingAndGlyphs" fill="#000">static 773K</text>
<path d="M207.8,68.70 H227.8" stroke="#008000" stroke-width="1.5"/>
<text x="234.3" y="72.00" font-family="Liberation Sans, sans-serif" stroke="#000" stroke-width="0.25" font-size="9.8" textLength="47.8" lengthAdjust="spacingAndGlyphs" fill="#000">QHA 573K</text>
<path d="M207.8,82.30 H227.8" stroke="#ff0000" stroke-width="1.5"/>
<text x="234.3" y="85.50" font-family="Liberation Sans, sans-serif" stroke="#000" stroke-width="0.25" font-size="9.8" textLength="52.6" lengthAdjust="spacingAndGlyphs" fill="#000">static 573K</text>
<path d="M207.8,95.90 H227.8" stroke="#00bfbf" stroke-width="1.5"/>
<text x="234.3" y="99.00" font-family="Liberation Sans, sans-serif" stroke="#000" stroke-width="0.25" font-size="9.8" textLength="47.8" lengthAdjust="spacingAndGlyphs" fill="#000">QHA 440K</text>
<path d="M207.8,109.50 H227.8" stroke="#bf00bf" stroke-width="1.5"/>
<text x="234.3" y="112.50" font-family="Liberation Sans, sans-serif" stroke="#000" stroke-width="0.25" font-size="9.8" textLength="35.4" lengthAdjust="spacingAndGlyphs" fill="#000">capture</text>
</svg>
</body></html>
